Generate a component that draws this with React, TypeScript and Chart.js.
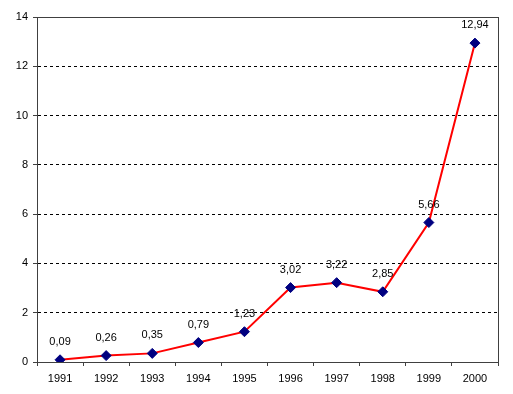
import React, { useEffect, useRef } from "react";
import { Chart, registerables } from "chart.js";

Chart.register(...registerables);

const years = ["1991", "1992", "1993", "1994", "1995", "1996", "1997", "1998", "1999", "2000"];
const values = [0.09, 0.26, 0.35, 0.79, 1.23, 3.02, 3.22, 2.85, 5.66, 12.94];
const yMin = 0;
const yMax = 14;
const yStep = 2;

const FONT = "'Liberation Sans', Arial, sans-serif";

const framePlugin = {
  id: "frame",
  afterDraw(chart: any) {
    const { ctx, chartArea } = chart;
    ctx.save();
    ctx.strokeStyle = "#404040";
    ctx.lineWidth = 1;
    ctx.strokeRect(chartArea.left + 0.5, chartArea.top + 0.5, chartArea.right - chartArea.left, chartArea.bottom - chartArea.top);
    ctx.restore();
  },
};

const labelPlugin = {
  id: "pointLabels",
  afterDatasetsDraw(chart: any) {
    const { ctx } = chart;
    const meta = chart.getDatasetMeta(0);
    ctx.save();
    ctx.font = `11px ${FONT}`;
    ctx.fillStyle = "#000000";
    ctx.textAlign = "center";
    ctx.textBaseline = "middle";
    meta.data.forEach((pt: any, i: number) => {
      const txt = values[i].toFixed(2).replace(".", ",");
      ctx.fillText(txt, pt.x, pt.y - 18);
    });
    ctx.restore();
  },
};

export default function App() {
  const ref = useRef<HTMLCanvasElement>(null);
  useEffect(() => {
    if (!ref.current) return;
    const chart = new Chart(ref.current, {
      type: "line",
      data: {
        labels: years,
        datasets: [
          {
            data: values,
            borderColor: "#FF0000",
            borderWidth: 2,
            pointStyle: "rectRot",
            pointRadius: 5,
            pointBackgroundColor: "#000080",
            pointBorderColor: "#000080",
            pointBorderWidth: 1,
            tension: 0,
          },
        ],
      },
      options: {
        responsive: false,
        animation: false,
        events: [],
        layout: { padding: { left: 0, top: 17, right: 15, bottom: 0 } },
        plugins: { legend: { display: false }, tooltip: { enabled: false } },
        scales: {
          x: {
            offset: true,
            grid: {
              offset: true,
              drawOnChartArea: false,
              drawTicks: true,
              tickLength: 4,
              color: "#404040",
            },
            border: { color: "#404040" },
            ticks: { color: "#000000", font: { family: FONT, size: 11 }, padding: 6, maxRotation: 0 },
            afterFit(scale: any) {
              scale.height = 32;
            },
          },
          y: {
            min: yMin,
            max: yMax,
            ticks: { stepSize: yStep, color: "#000000", font: { family: FONT, size: 11 }, padding: 5 },
            grid: {
              color: "#000000",
              tickColor: "#404040",
              tickLength: 4,
              drawTicks: true,
            },
            border: { color: "#404040", dash: [3, 3] },
            afterFit(scale: any) {
              scale.width = 37;
            },
          },
        },
      },
      plugins: [framePlugin, labelPlugin],
    });
    return () => chart.destroy();
  }, []);
  return (
    <div style={{ position: "fixed", left: 0, top: 0, width: 513, height: 394, background: "#fff" }}>
      <canvas ref={ref} width={513} height={394} style={{ display: "block" }} />
    </div>
  );
}
